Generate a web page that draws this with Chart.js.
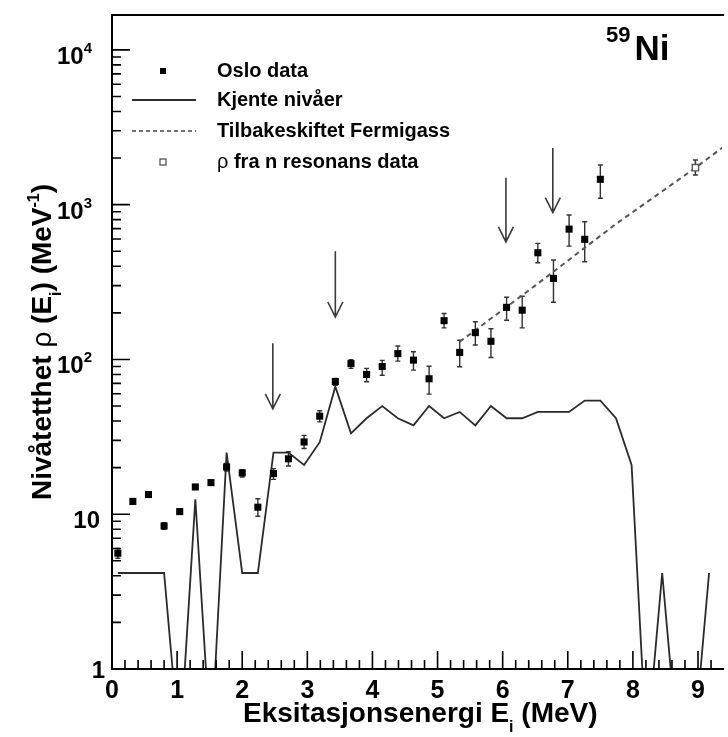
<!DOCTYPE html>
<html>
<head>
<meta charset="utf-8">
<title>59Ni nivåtetthet</title>
<script src="https://cdn.jsdelivr.net/npm/chart.js@4.4.1/dist/chart.umd.min.js"></script>
<style>
  html, body { margin: 0; padding: 0; background: #fff; }
  canvas { display: block; }
</style>
</head>
<body>
<canvas id="c" width="728" height="737"></canvas>
<script>
/* ---- Data -------------------------------------------------------------- */
// bin centres, MeV (0.24 MeV bins)
const binE = [0.09, 0.32, 0.56, 0.80, 1.04, 1.28, 1.52, 1.76, 2.00, 2.24,
              2.48, 2.71, 2.95, 3.19, 3.43, 3.67, 3.91, 4.15, 4.39, 4.63,
              4.87, 5.10, 5.34, 5.58, 5.82, 6.06, 6.30, 6.54, 6.78, 7.02,
              7.26, 7.50, 7.74, 7.98, 8.21, 8.45, 8.69, 8.93, 9.17];

// Oslo data (first 32 bins) with error bar ends
const osloRho  = [5.6, 12.1, 13.4, 8.4, 10.4, 15.0, 16.0, 20.2, 18.5, 11.1,
                  18.3, 22.8, 29.3, 43, 72, 94, 80, 90, 109, 99,
                  75, 178, 111, 149, 131, 217, 208, 489, 334, 695,
                  597, 1458];
const osloLow  = [5.2, 11.6, 12.9, 8.0, 10.0, 14.5, 15.5, 19.0, 17.4, 9.7,
                  16.8, 20.5, 26.6, 39.5, 68, 87.6, 71.7, 79, 97.5, 85.3,
                  59.7, 160, 89.6, 124, 103, 179, 160, 421, 234, 540,
                  428, 1099];
const osloHigh = [6.0, 12.6, 13.9, 8.8, 10.8, 15.5, 16.5, 21.3, 19.4, 12.6,
                  19.7, 25.3, 32.3, 46.6, 75.4, 99.5, 87.6, 98.6, 122, 112,
                  90.4, 198, 133, 175, 158, 252, 256, 562, 439, 857,
                  775, 1803];

// known levels (empty bins fall below the axis, 0.3 is off-scale)
const levelRho = [4.17, 4.17, 4.17, 4.17, 0.3, 12.5, 0.3, 25, 4.17, 4.17,
                  25, 25, 20.8, 29.2, 66.7, 33.3, 41.7, 50, 41.7, 37.5,
                  50, 41.7, 45.8, 37.5, 50, 41.7, 41.7, 45.8, 45.8, 45.8,
                  54.2, 54.2, 41.7, 20.8, 0.3, 4.17, 0.3, 0.3, 4.17];

// back-shifted Fermi gas
const fermiE   = [5.34, 6.5, 7.72, 8.96, 9.37];
const fermiRho = [130, 300, 740, 1730, 2330];

// rho from neutron resonance data
const resE    = [8.96];
const resRho  = [1733];
const resLow  = [1554];
const resHigh = [1941];

// arrows
const arrowE    = [2.47, 3.43, 6.05, 6.77];
const arrowTip  = [48, 188, 575, 889];
const arrowTail = [127, 500, 1493, 2323];

// axis ticks
const xTickValues = [0, 1, 2, 3, 4, 5, 6, 7, 8, 9];
const yTickValues = [1, 10, 100, 1000, 10000];
const yTickBase   = ['1', '10', '10', '10', '10'];
const yTickExp    = ['', '', '2', '3', '4'];

const osloE = binE.slice(0, osloRho.length);

/* ---- Helpers ----------------------------------------------------------- */
const FAM = '"Liberation Sans", Arial, Helvetica, sans-serif';
const font = (size, bold) => (bold === false ? '' : 'bold ') + size + 'px ' + FAM;
const pts = (xs, ys) => xs.map((x, i) => ({ x, y: ys[i] }));

function richWidth(ctx, parts) {
  let w = 0;
  parts.forEach((p) => { ctx.font = font(p.size, p.bold); w += ctx.measureText(p.text).width + (p.gap || 0); });
  return w;
}
function drawRich(ctx, parts, x, y) {
  parts.forEach((p) => {
    ctx.font = font(p.size, p.bold);
    ctx.fillText(p.text, x, y + (p.dy || 0));
    x += ctx.measureText(p.text).width + (p.gap || 0);
  });
}

/* error bars, drawn under the markers */
const errorBars = {
  id: 'errorBars',
  beforeDatasetsDraw(chart) {
    const { ctx, chartArea: a, scales: { x, y } } = chart;
    ctx.save();
    ctx.beginPath();
    ctx.rect(a.left, a.top, a.right - a.left, a.bottom - a.top);
    ctx.clip();
    ctx.strokeStyle = '#333';
    ctx.lineWidth = 1.4;
    [[osloE, osloLow, osloHigh], [resE, resLow, resHigh]].forEach(([es, lo, hi]) => {
      es.forEach((e, i) => {
        const px = x.getPixelForValue(e);
        const p1 = y.getPixelForValue(lo[i]);
        const p2 = y.getPixelForValue(hi[i]);
        ctx.beginPath();
        ctx.moveTo(px, p1); ctx.lineTo(px, p2);
        ctx.moveTo(px - 2.5, p1); ctx.lineTo(px + 2.5, p1);
        ctx.moveTo(px - 2.5, p2); ctx.lineTo(px + 2.5, p2);
        ctx.stroke();
      });
    });
    ctx.restore();
  },
};

/* frame, inward ticks, labels, arrows, legend, nucleus */
const decorations = {
  id: 'decorations',
  afterDraw(chart) {
    const { ctx, chartArea: a, scales: { x, y } } = chart;
    ctx.save();
    ctx.strokeStyle = '#000';
    ctx.fillStyle = '#000';

    // frame
    ctx.lineWidth = 2;
    ctx.beginPath();
    ctx.moveTo(a.right + 2, a.top);
    ctx.lineTo(a.left, a.top);
    ctx.lineTo(a.left, a.bottom);
    ctx.lineTo(a.right + 2, a.bottom);
    ctx.stroke();

    // x ticks every 0.2 MeV, long ones on integers
    ctx.lineWidth = 1.6;
    ctx.beginPath();
    for (let k = 1; k * 0.2 <= x.max; k++) {
      const px = x.getPixelForValue(k * 0.2);
      const len = k % 5 === 0 ? 18 : 9;
      ctx.moveTo(px, a.bottom); ctx.lineTo(px, a.bottom - len);
    }
    // y ticks 1..9 per decade
    for (let d = 1; d <= 10000; d *= 10) {
      for (let m = 1; m <= 9; m++) {
        const v = d * m;
        if (v > y.max || v === 1) continue;
        const py = y.getPixelForValue(v);
        const len = m === 1 ? 18 : 9;
        ctx.moveTo(a.left, py); ctx.lineTo(a.left + len, py);
      }
    }
    ctx.stroke();

    // x tick labels
    ctx.font = font(25);
    ctx.textAlign = 'center';
    ctx.textBaseline = 'alphabetic';
    xTickValues.forEach((v) => {
      ctx.fillText(String(v), x.getPixelForValue(v), 698);
    });

    // y tick labels
    ctx.textAlign = 'left';
    yTickValues.forEach((v, i) => {
      const py = y.getPixelForValue(v);
      if (yTickExp[i]) {
        const parts = [{ text: yTickBase[i], size: 24 }, { text: yTickExp[i], size: 15, dy: -11 }];
        drawRich(ctx, parts, 92 - richWidth(ctx, parts), py + 14);
      } else if (v === 1) {
        drawRich(ctx, [{ text: '1', size: 24 }], 105 - richWidth(ctx, [{ text: '1', size: 24 }]), py + 9);
      } else {
        const parts = [{ text: yTickBase[i], size: 24 }];
        drawRich(ctx, parts, 100 - richWidth(ctx, parts), py + 14);
      }
    });

    // x axis title
    drawRich(ctx, [
      { text: 'Eksitasjonsenergi E', size: 28 },
      { text: 'i', size: 16, dy: 10 },
      { text: ' (MeV)', size: 28 },
    ], 243, 722);

    // y axis title (rotated)
    const yParts = [
      { text: 'Nivåtetthet ', size: 28 },
      { text: 'ρ', size: 28, bold: false },
      { text: ' (E', size: 28 },
      { text: 'i', size: 16, dy: 10 },
      { text: ') (MeV', size: 28 },
      { text: '-1', size: 16, dy: -12 },
      { text: ')', size: 28 },
    ];
    ctx.save();
    ctx.translate(51, 342);
    ctx.rotate(-Math.PI / 2);
    drawRich(ctx, yParts, -richWidth(ctx, yParts) / 2, 0);
    ctx.restore();

    // arrows
    ctx.strokeStyle = '#3a3a3a';
    ctx.lineWidth = 1.6;
    arrowE.forEach((e, i) => {
      const px = x.getPixelForValue(e);
      const tip = y.getPixelForValue(arrowTip[i]);
      const tail = y.getPixelForValue(arrowTail[i]);
      ctx.beginPath();
      ctx.moveTo(px, tail); ctx.lineTo(px, tip);
      ctx.moveTo(px - 7.5, tip - 15); ctx.lineTo(px, tip); ctx.lineTo(px + 7.5, tip - 15);
      ctx.stroke();
    });

    // legend
    const lx0 = 132, lx1 = 196, lxm = 163, tx = 217;
    const rows = [71, 100, 131, 162];
    ctx.fillStyle = '#000';
    ctx.fillRect(lxm - 3, rows[0] - 3, 6, 6);
    ctx.strokeStyle = '#2b2b2b'; ctx.lineWidth = 1.8;
    ctx.beginPath(); ctx.moveTo(lx0, rows[1]); ctx.lineTo(lx1, rows[1]); ctx.stroke();
    ctx.strokeStyle = '#444'; ctx.lineWidth = 1.5;
    ctx.setLineDash([4, 3]);
    ctx.beginPath(); ctx.moveTo(lx0, rows[2]); ctx.lineTo(lx1, rows[2]); ctx.stroke();
    ctx.setLineDash([]);
    ctx.strokeStyle = '#555'; ctx.lineWidth = 1.3;
    ctx.strokeRect(lxm - 3, rows[3] - 3, 6, 6);

    ctx.textBaseline = 'middle';
    ctx.fillStyle = '#000';
    const names = chart.data.datasets;
    drawRich(ctx, [{ text: names[0].label, size: 20 }], tx, rows[0]);
    drawRich(ctx, [{ text: names[2].label, size: 20 }], tx, rows[1]);
    drawRich(ctx, [{ text: names[3].label, size: 20 }], tx, rows[2]);
    drawRich(ctx, [{ text: 'ρ', size: 20, bold: false }, { text: ' fra n resonans data', size: 20 }], tx, rows[3]);

    // nucleus label
    ctx.textBaseline = 'alphabetic';
    drawRich(ctx, [{ text: '59', size: 22, dy: -18, gap: 4 }, { text: 'Ni', size: 35 }], 606, 60);

    ctx.restore();
  },
};

/* ---- Chart ------------------------------------------------------------- */
new Chart(document.getElementById('c'), {
  type: 'line',
  data: {
    datasets: [
      {
        label: 'Oslo data',
        data: pts(osloE, osloRho),
        showLine: false,
        pointStyle: 'rect',
        pointRadius: 5,
        pointHoverRadius: 5,
        backgroundColor: '#000',
        borderColor: '#000',
        borderWidth: 0,
      },
      {
        label: 'ρ fra n resonans data',
        data: pts(resE, resRho),
        showLine: false,
        pointStyle: 'rect',
        pointRadius: 4.5,
        backgroundColor: '#fff',
        borderColor: '#555',
        borderWidth: 1.4,
      },
      {
        label: 'Kjente nivåer',
        data: pts(binE, levelRho),
        borderColor: '#2b2b2b',
        borderWidth: 1.8,
        pointRadius: 0,
        tension: 0,
        fill: false,
      },
      {
        label: 'Tilbakeskiftet Fermigass',
        data: pts(fermiE, fermiRho),
        borderColor: '#555',
        borderWidth: 2,
        borderDash: [5, 4],
        pointRadius: 0,
        fill: false,
      },
    ],
  },
  options: {
    responsive: false,
    animation: false,
    devicePixelRatio: 1,
    layout: { padding: { left: 112, top: 15, right: 0, bottom: 68 } },
    plugins: { legend: { display: false }, tooltip: { enabled: false } },
    scales: {
      x: {
        type: 'linear', min: 0, max: 9.37,
        ticks: { display: false },
        grid: { display: false, drawTicks: false },
        border: { display: false },
      },
      y: {
        type: 'logarithmic', min: 1, max: 16800,
        ticks: { display: false },
        grid: { display: false, drawTicks: false },
        border: { display: false },
      },
    },
  },
  plugins: [errorBars, decorations],
});
</script>
</body>
</html>
